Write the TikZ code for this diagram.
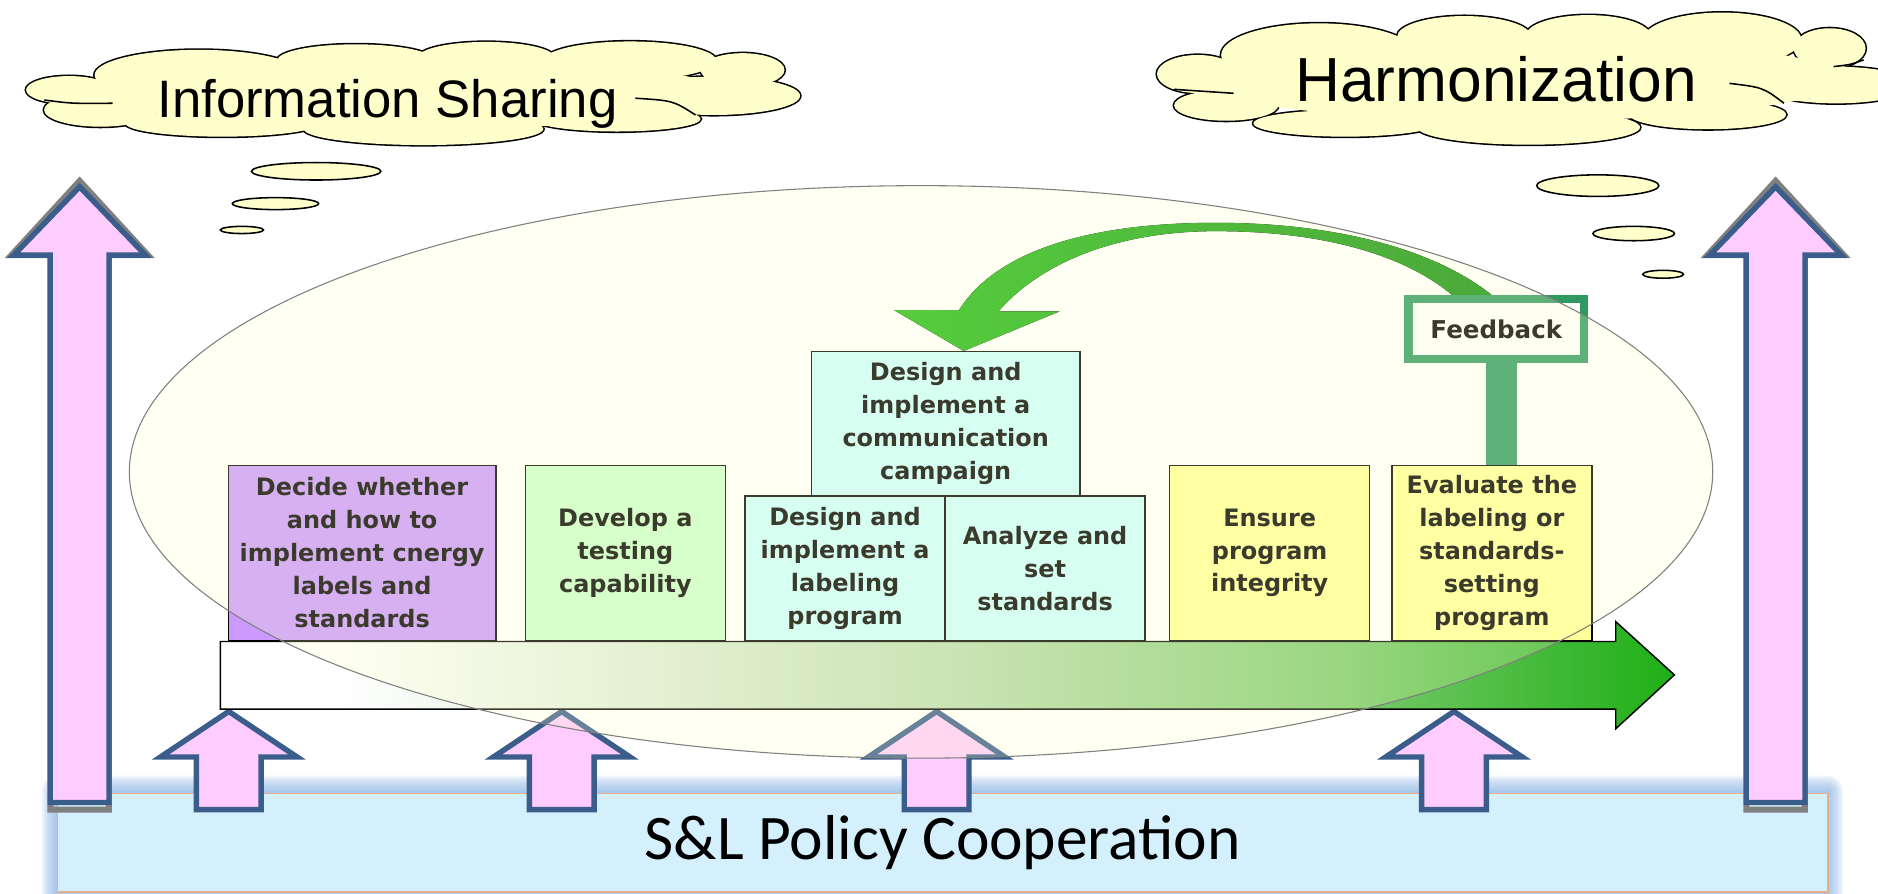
\documentclass[tikz,border=0pt]{standalone}
\usepackage{fontspec}
\setmainfont{Liberation Sans}
\newfontfamily\boxfont{DejaVu Sans}
\newfontfamily\coopfont{Carlito}
\usetikzlibrary{calc}

\definecolor{cloudyellow}{HTML}{FFFFCC}
\definecolor{pinkfill}{HTML}{FFCCFF}
\definecolor{arrowblue}{HTML}{3A5D8C}
\definecolor{decidecol}{HTML}{CC99FF}
\definecolor{testcol}{HTML}{CCFFCC}
\definecolor{cyancol}{HTML}{CCFFFF}
\definecolor{yellowcol}{HTML}{FFFF99}
\definecolor{fbgreen}{HTML}{2E9A62}
\definecolor{loopgreenL}{HTML}{55CC3D}
\definecolor{loopgreenR}{HTML}{4BAA3A}
\definecolor{coopblue}{HTML}{D4F0FC}
\definecolor{coopedge}{HTML}{E8B088}
\definecolor{glowblue}{HTML}{8CB4E3}
\definecolor{overlay}{HTML}{FFFFC6}
\definecolor{tlmid}{HTML}{BCDCB0}
\definecolor{tlmid2}{HTML}{7FCC70}
\definecolor{tlgreen}{HTML}{1FAF17}

\pgfdeclarehorizontalshading{timeline}{100bp}{color(0bp)=(white); color(29bp)=(white); color(50bp)=(tlmid); color(63bp)=(tlmid2); color(75bp)=(tlgreen); color(100bp)=(tlgreen)}

\begin{document}
\begin{tikzpicture}[
    x=1pt, y=-1pt,
    phase/.style={draw=black, line width=1.2, align=center, text=black, inner sep=0pt, font=\boxfont\bfseries\fontsize{20}{27.5}\selectfont},
    tallbox/.style={phase, minimum width=167, minimum height=146, anchor=north west},
    lowbox/.style={phase, minimum width=167, minimum height=120.5, anchor=north west},
    pinkup/.style={fill=pinkfill, draw=arrowblue, line width=4.5},
    puffline/.style={draw=black, line width=2.6},
    puffstroke/.style={draw=black, line width=1.3},
    bubble/.style={fill=cloudyellow, draw, line width=1.3}
]
\useasboundingbox (0,0) rectangle (1568,746);

% Glow behind cooperation bar
\foreach \g in {1,...,8}
  \fill[glowblue, opacity=0.15, rounded corners={1.6*\g}] ({47.6-1.6*\g},{662-1.8*\g}) rectangle ({1525.7+1.6*\g},760);

% S&L Policy Cooperation
\node[draw=coopedge, line width=1.2, fill=coopblue, minimum width=1478, minimum height=82, anchor=north west, inner sep=0, font=\coopfont\fontsize{53}{60}\selectfont] (coop) at (47.6,662) {S\&L Policy Cooperation};

% Side arrows
\foreach \cx in {66.5,1482.5} {
  \draw[gray, line width=5] ({\cx-24.5},676) -- ({\cx-24.5},213) -- ({\cx-57},213) -- (\cx,151) -- ({\cx+57},213) -- ({\cx+24.5},213) -- ({\cx+24.5},676) -- cycle;
  \draw[pinkup] ({\cx-24.5},670) -- ({\cx-24.5},213) -- ({\cx-55},213) -- (\cx,156) -- ({\cx+55},213) -- ({\cx+24.5},213) -- ({\cx+24.5},670) -- cycle;
}

% Support arrows
\foreach \cx in {191,469,782,1214}
  \draw[pinkup] ({\cx-27},676) -- ({\cx-27},632) -- ({\cx-57},632) -- (\cx,594) -- ({\cx+57},632) -- ({\cx+27},632) -- ({\cx+27},676) -- cycle;

% Timeline
\draw[shading=timeline, draw=black, line width=1.2] (184,535.6) -- (1349,535.6) -- (1349,519) -- (1398,563.5) -- (1349,608.5) -- (1349,592) -- (184,592) -- cycle;

% Steps
\node[tallbox, fill=decidecol, minimum width=223.5] (decide) at (190,388) {Decide whether\\and how to\\implement cnergy\\labels and\\standards};
\node[tallbox, fill=testcol] (testing) at (438,388) {Develop a\\testing\\capability};
\node[lowbox, fill=cyancol] (labeling) at (621.5,413.5) {Design and\\implement a\\labeling\\program};
\node[lowbox, fill=cyancol] (standards) at (788.5,413.5) {Analyze and\\set\\standards};
\node[lowbox, fill=cyancol, minimum width=224] (campaign) at (677,293) {Design and\\implement a\\communication\\campaign};
\node[tallbox, fill=yellowcol] (integrity) at (976,388) {Ensure\\program\\integrity};
\node[tallbox, fill=yellowcol] (evaluate) at (1161.5,388) {Evaluate the\\labeling or\\standards-\\setting\\program};

% Feedback sign
\draw[fbgreen, line width=26] ($(evaluate.north)+(8,0)$) -- ($(evaluate.north)+(8,-90)$);
\node[draw=fbgreen, line width=7, fill=white, minimum width=146.5, minimum height=50, inner sep=0, font=\boxfont\bfseries\fontsize{20.5}{24}\selectfont] (feedback) at (1249.3,274.7) {Feedback};

% Program cycle
\draw[gray, line width=0.9, fill=overlay, fill opacity=0.23] (769,394) ellipse [x radius=661, y radius=239];

% Feedback loop
\fill[left color=loopgreenL, right color=loopgreenR] ($(campaign.north)+(15,0)$) -- ++(-58,-34) -- ++(54,0)
  .. controls (835,205) and (920,186) .. (1015,186)
  .. controls (1120,186) and (1200,210) .. ($(feedback.north)+(-4,0)$) -- ++(-33,0)
  .. controls (1175,215) and (1110,193) .. (1015,193)
  .. controls (935,193) and (870,218) .. ($(campaign.north)+(44,-33)$) -- ++(51,0) -- cycle;

% Cloud: Information Sharing
\foreach \cx/\cy/\rx/\ry in {57.6/75.1/35.8/11.6, 83.8/91.8/47/14, 185.6/103/80.8/11.1, 353.6/107.7/100/13.4, 515/99.3/70/10.5, 596/80/72/16, 620/58.4/35/14, 526/50.6/72/16, 406/48/57/13, 297/50.4/65.5/13.4, 166/62.6/87/21}
  \path[puffline] (\cx,\cy) ellipse [x radius=\rx, y radius=\ry];
\foreach \cx/\cy/\rx/\ry in {57.6/75.1/35.8/11.6, 83.8/91.8/47/14, 185.6/103/80.8/11.1, 353.6/107.7/100/13.4, 515/99.3/70/10.5, 596/80/72/16, 620/58.4/35/14, 526/50.6/72/16, 406/48/57/13, 297/50.4/65.5/13.4, 166/62.6/87/21, 345/78/260/30}
  \fill[cloudyellow] (\cx,\cy) ellipse [x radius=\rx, y radius=\ry];
\draw[puffstroke] (37,83.5) .. controls (60,86.5) .. (94,86.2);
\draw[puffstroke] (530.5,82) .. controls (562,84) .. (580.7,96);
\node[anchor=base, font=\fontsize{44}{50}\selectfont] (sharing) at (323.5,98) {Information Sharing};
\draw[bubble] (264,143) ellipse [x radius=54, y radius=7.3];
\draw[bubble] (230,170) ellipse [x radius=36, y radius=5];
\draw[bubble] (202,192) ellipse [x radius=18, y radius=3];

% Cloud: Harmonization
\foreach \cx/\cy/\rx/\ry in {1000/61.8/34/15.9, 1023.8/88/43.5/12.8, 1123.1/103/76.6/11.1, 1276.3/106.3/93/14.5, 1426/95.7/65.4/12.2, 1533/71/64/15.3, 1527.6/40.3/30/16.7, 1437.8/33/66/22.5, 1326/29.8/52/17.2, 1222.5/30.6/56/17.2, 1101.2/45.9/81.6/26.4}
  \path[puffline] (\cx,\cy) ellipse [x radius=\rx, y radius=\ry];
\foreach \cx/\cy/\rx/\ry in {1000/61.8/34/15.9, 1023.8/88/43.5/12.8, 1123.1/103/76.6/11.1, 1276.3/106.3/93/14.5, 1426/95.7/65.4/12.2, 1533/71/64/15.3, 1527.6/40.3/30/16.7, 1437.8/33/66/22.5, 1326/29.8/52/17.2, 1222.5/30.6/56/17.2, 1101.2/45.9/81.6/26.4, 1268/66/270/35}
  \fill[cloudyellow] (\cx,\cy) ellipse [x radius=\rx, y radius=\ry];
\draw[puffstroke] (980.3,74.6) .. controls (1005,77) .. (1030,77.9);
\draw[puffstroke] (1444,69.6) .. controls (1472,73) .. (1489.5,86.2);
\draw[puffstroke] (1531,55.6) .. controls (1545,54) .. (1556,50);
\node[anchor=base, font=\fontsize{52}{60}\selectfont] (harm) at (1249,85) {Harmonization};
\draw[bubble] (1334,155) ellipse [x radius=51, y radius=9];
\draw[bubble] (1364,195) ellipse [x radius=34, y radius=6];
\draw[bubble] (1388.6,229) ellipse [x radius=17, y radius=3.3];

\end{tikzpicture}
\end{document}
